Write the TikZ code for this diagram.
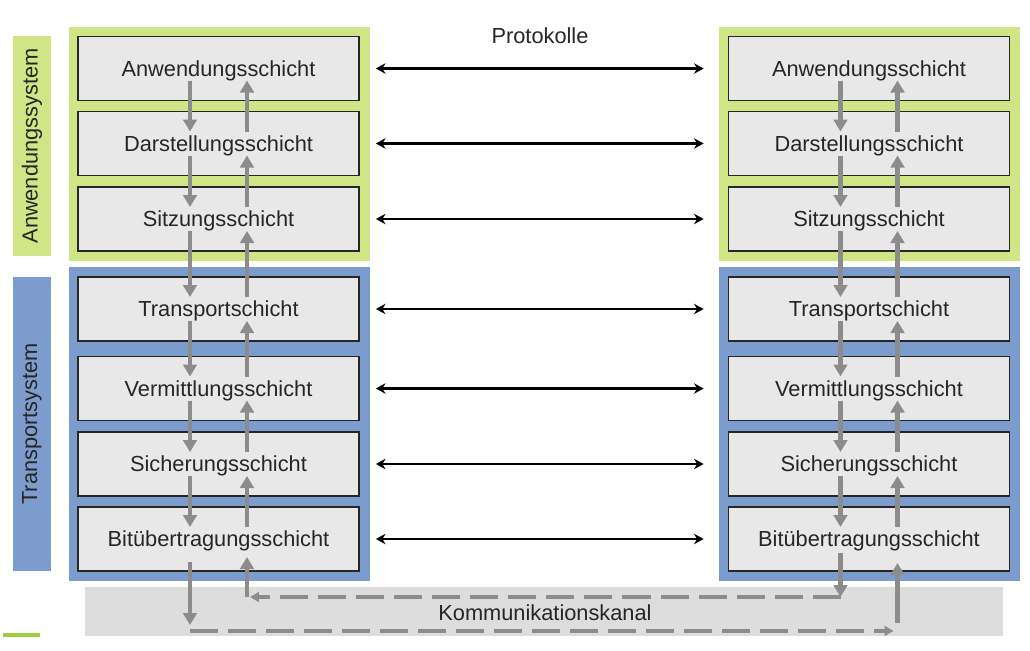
\documentclass[tikz,border=0pt]{standalone}
\usepackage{fontspec}
\setmainfont{Liberation Sans}
\usetikzlibrary{positioning,calc,arrows.meta}
\definecolor{appgreen}{RGB}{208,230,134}
\definecolor{netblue}{RGB}{124,156,206}
\definecolor{layerfill}{RGB}{232,232,232}
\definecolor{flowgray}{RGB}{140,140,140}
\definecolor{chanfill}{RGB}{221,221,221}
\definecolor{markgreen}{RGB}{160,205,60}

\begin{document}
\begin{tikzpicture}[x=0.25mm, y=-0.25mm,
    txt/.style={font=\fontsize{15.5}{18}\selectfont, text=black!85},
    layer/.style={txt, draw=black!85, line width=1.1pt, fill=layerfill, minimum width=70.3mm, minimum height=16.1mm, inner sep=0pt, text depth=0.5pt},
    sysbar/.style={txt, rotate=90, minimum height=9.5mm, inner sep=0pt},
    proto/.style={black, line width=1.6pt, {Stealth[length=2.4mm,width=2.6mm]}-{Stealth[length=2.4mm,width=2.6mm]}},
    flow/.style={flowgray, line width=1.1mm, -{Triangle[length=3mm,width=3.4mm]}},
    chan/.style={flowgray, line width=1mm, dash pattern=on 7mm off 2.5mm, -{Triangle[length=2.2mm,width=2.4mm]}}]
    \useasboundingbox (0,0) rectangle (1030,651);

    % system panels
    \fill[appgreen] (69,27) rectangle (370,261); \fill[netblue] (69,267) rectangle (370,581);
    \fill[appgreen] (719,27) rectangle (1020,261); \fill[netblue] (719,267) rectangle (1020,581);
    \node[sysbar, fill=appgreen, minimum width=55mm] (appsys) at (32,146) {Anwendungssystem};
    \node[sysbar, fill=netblue, minimum width=73.5mm] (netsys) at (32,424) {Transportsystem};

    % channel
    \fill[chanfill] (85,587) rectangle (1003,636);
    \node[txt] (kanal) at (545,613) {Kommunikationskanal};
    \fill[markgreen] (3,633) rectangle (40,637);

    \node[txt] (proto) at (540,36) {Protokolle};

    % layers
    \foreach \n/\y/\t in {1/68.5/Anwendungsschicht, 2/143.5/Darstellungsschicht, 3/219/Sitzungsschicht,
        4/309/Transportschicht, 5/388.5/Vermittlungsschicht, 6/464/Sicherungsschicht, 7/539/Bitübertragungsschicht} {
        \node[layer] (L\n) at (218.5,\y) {\t};
        \node[layer] (R\n) at (869,\y) {\t};
        \draw[proto] ($(L\n.east)+(16,0)$) -- ($(R\n.west)+(-24,0)$);
    }

    % down and up through the stack
    \foreach \a/\b in {1/2, 2/3, 3/4, 4/5, 5/6, 6/7} {
        \foreach \s in {L,R} {
            \draw[flow] ($(\s\a)+(-28.5,12)$) -- ($(\s\b)+(-28.5,-12)$);
            \draw[flow] ($(\s\b)+(28.5,-12)$) -- ($(\s\a)+(28.5,12)$);
        }
    }

    % over the channel
    \coordinate (chA1) at (190,631); \coordinate (chA2) at (897.5,631);
    \coordinate (chB1) at (840.5,597); \coordinate (chB2) at (247,597);
    \draw[flow] ($(L7)+(-28.5,23)$) -- ($(chA1)+(0,-6)$);
    \draw[chan] (chA1) -- ($(chA2)+(-4,0)$);
    \draw[flow] ($(chA2)+(0,-8)$) -- ($(R7)+(28.5,24)$);
    \draw[flow] ($(R7)+(-28.5,14)$) -- (chB1);
    \draw[chan] (chB1) -- ($(chB2)+(3,0)$);
    \draw[flow] (chB2) -- ($(L7)+(28.5,18)$);
\end{tikzpicture}
\end{document}
